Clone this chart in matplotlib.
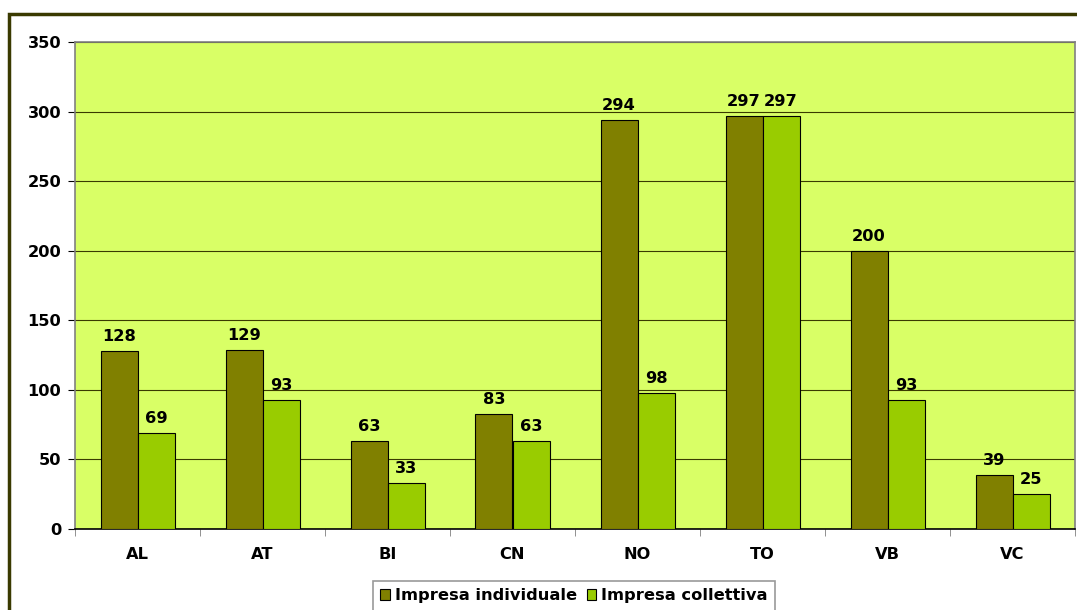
import matplotlib
matplotlib.use("Agg")
import matplotlib.pyplot as plt
from matplotlib.patches import Rectangle, Patch
import numpy as np

provinces = ["AL", "AT", "BI", "CN", "NO", "TO", "VB", "VC"]
individuale = [128, 129, 63, 83, 294, 297, 200, 39]
collettiva = [69, 93, 33, 63, 98, 297, 93, 25]
series_names = ["Impresa individuale", "Impresa collettiva"]
y_ticks = [0, 50, 100, 150, 200, 250, 300, 350]

W, H = 1077, 610
fig = plt.figure(figsize=(W / 100, H / 100), dpi=100)
fig.patch.set_facecolor("white")

# outer chart frame (runs past the right and bottom edges)
fig.patches.append(Rectangle((9 / W, -0.2), 1.2, 1.2 - 14 / H, transform=fig.transFigure,
                             fill=False, edgecolor="#3a3a00", linewidth=2.5, zorder=0))

ax = fig.add_axes([75 / W, (H - 529) / H, 1000 / W, 487 / H])
ax.set_facecolor("#d9ff66")

x = np.arange(len(provinces))
bw = 0.296
ax.bar(x - bw / 2, individuale, bw, color="#808000", edgecolor="black", linewidth=0.8, zorder=3)
ax.bar(x + bw / 2, collettiva, bw, color="#99cc00", edgecolor="black", linewidth=0.8, zorder=3)

label_font = dict(fontsize=11.7, fontweight="bold", family="DejaVu Sans")
for xi, v in zip(x, individuale):
    ax.annotate(str(v), (xi - bw / 2, v), xytext=(0, 5), textcoords="offset points",
                ha="center", va="bottom", **label_font)
for xi, v in zip(x, collettiva):
    ax.annotate(str(v), (xi + bw / 2, v), xytext=(0, 5), textcoords="offset points",
                ha="center", va="bottom", **label_font)

ax.set_xlim(-0.5, len(provinces) - 0.5)
ax.set_ylim(0, 350)
ax.set_yticks(y_ticks)
ax.set_yticklabels([str(t) for t in y_ticks], **label_font)
ax.yaxis.grid(True, color="#3a3a00", linewidth=0.8, zorder=1)
ax.set_axisbelow(True)

ax.set_xticks(x)
ax.set_xticklabels(provinces, **label_font)
ax.set_xticks(np.arange(len(provinces) + 1) - 0.5, minor=True)
ax.tick_params(axis="x", which="major", length=0, pad=13)
ax.tick_params(axis="x", which="minor", length=5, color="#808080", direction="out")
ax.tick_params(axis="y", length=5, color="black", direction="out", pad=5)

for side in ["top", "right", "left"]:
    ax.spines[side].set_color("#808080")
    ax.spines[side].set_linewidth(1.2)
ax.spines["bottom"].set_color("black")
ax.spines["bottom"].set_linewidth(1.2)

handles = [Patch(facecolor="#808000", edgecolor="black", linewidth=0.8),
           Patch(facecolor="#99cc00", edgecolor="black", linewidth=0.8)]
leg = fig.legend(handles, series_names, loc="upper center",
                 bbox_to_anchor=(574 / W, 1 - 581 / H), ncol=2,
                 prop=dict(size=11.7, weight="bold", family="DejaVu Sans"),
                 frameon=True, fancybox=False, edgecolor="#808080",
                 handlelength=0.6, handleheight=0.6, handletextpad=0.3,
                 columnspacing=0.6, borderpad=0.45, borderaxespad=0)
leg.get_frame().set_linewidth(1.2)

fig.savefig("out.png", dpi=100)
